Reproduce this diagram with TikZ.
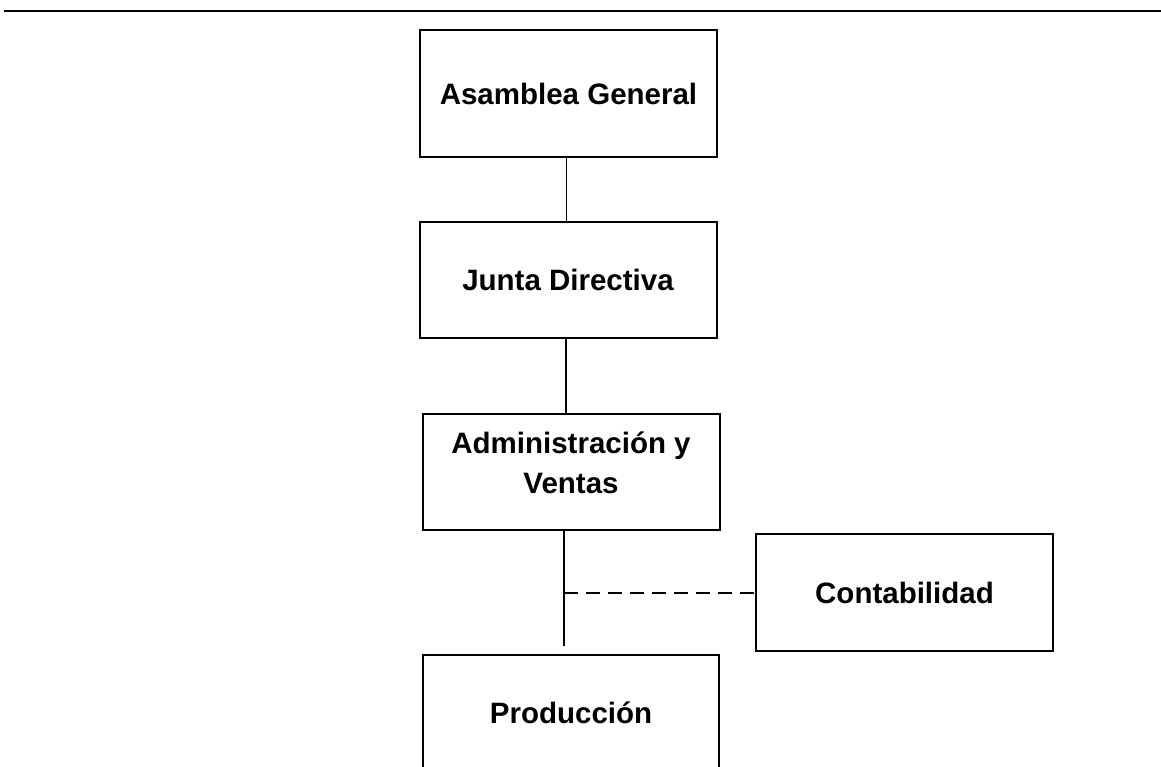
\documentclass[tikz,border=0pt]{standalone}
\usepackage{fontspec}
\setmainfont{Liberation Sans}
\begin{document}
\begin{tikzpicture}[x=1pt,y=-1pt,
  orgbox/.style={draw=black, line width=2pt, minimum width=297pt, inner sep=0pt,
                 font=\fontsize{29.5}{40}\selectfont\bfseries, align=center},
  boxtext/.style={font=\fontsize{29.5}{40}\selectfont\bfseries, align=center, inner sep=0pt},
  link/.style={draw=black, line width=1.8pt},
  dotted link/.style={link, line width=2pt, dash pattern=on 14pt off 8pt}]
  \useasboundingbox (0,0) rectangle (1161,766);
  \clip (0,0) rectangle (1161,766);

  % header rule
  \draw[line width=2pt] (4,11) -- (1161,11);

  % organisation chart
  \node[orgbox, minimum height=127pt] (A) at (568.5,93.5) {Asamblea General};
  \node[orgbox, minimum height=116pt] (J) at (568,280) {Junta Directiva};
  \node[orgbox, minimum height=116pt] (V) at (571,472) {};
  \node[boxtext] (Vt) at (571,463) {Administración y\\Ventas};
  \node[orgbox, minimum height=117pt] (C) at (904.5,592.5) {Contabilidad};
  \node[orgbox, minimum height=116pt, minimum width=296pt] (P) at (571,713) {Producción};

  % reporting lines
  \draw[link] ([xshift=-2pt]A.south) -- ([xshift=-2pt]A.south |- J.north);
  \draw[link] ([xshift=-2pt]J.south) -- ([xshift=-2pt]J.south |- V.north);
  \draw[link, shorten >=8pt] ([xshift=-7pt]V.south) -- ([xshift=-7pt]P.north);
  \coordinate (branch) at ([xshift=-7pt]V.south |- C.west);
  \draw[dotted link] (branch) -- (C.west);
\end{tikzpicture}
\end{document}
